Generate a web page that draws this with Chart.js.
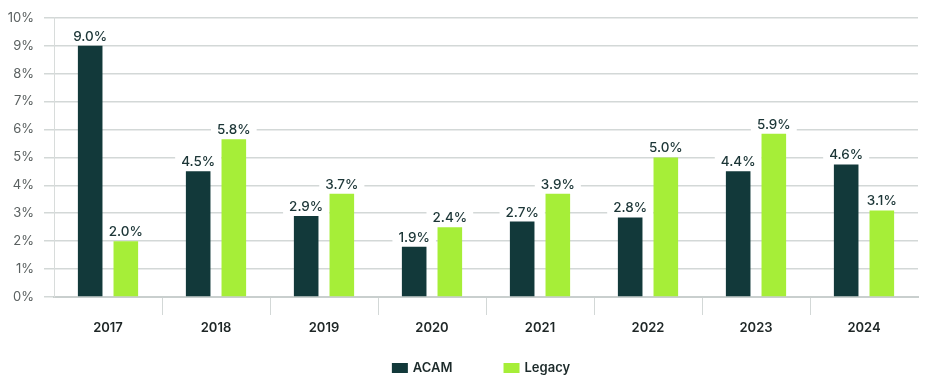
<!DOCTYPE html>
<html>
<head>
    <title>ACAM vs Legacy</title>
    <meta charset="UTF-8">
    <script src="https://cdn.jsdelivr.net/npm/chart.js@4.4.1/dist/chart.umd.min.js"></script>
    <style>
        body { margin: 0; background: #fff; }
        #wrap { width: 945px; height: 385px; }
    </style>
</head>
<body>
<div id="wrap"><canvas id="myChart"></canvas></div>
<script>
    let years = ['2017', '2018', '2019', '2020', '2021', '2022', '2023', '2024'];
    // bar heights as drawn in the picture
    let acamValues = [9.0, 4.5, 2.9, 1.8, 2.7, 2.85, 4.5, 4.75];
    let legacyValues = [2.0, 5.65, 3.7, 2.5, 3.7, 5.0, 5.85, 3.1];
    // printed labels
    let acamLabels = ['9.0%', '4.5%', '2.9%', '1.9%', '2.7%', '2.8%', '4.4%', '4.6%'];
    let legacyLabels = ['2.0%', '5.8%', '3.7%', '2.4%', '3.9%', '5.0%', '5.9%', '3.1%'];
    let yTicks = [0, 1, 2, 3, 4, 5, 6, 7, 8, 9, 10];

    const FONT = 'Inter, "Liberation Sans", sans-serif';
    const gridColor = '#d3d8d7';
    const labelFont = '500 13.5px ' + FONT;

    function eachLabel(chart, fn) {
        const texts = [acamLabels, legacyLabels];
        chart.data.datasets.forEach(function (ds, di) {
            chart.getDatasetMeta(di).data.forEach(function (bar, i) {
                fn(bar, texts[di][i]);
            });
        });
    }

    // white boxes go under the bars (hide gridlines), text goes on top
    const valueLabels = {
        id: 'valueLabels',
        beforeDatasetsDraw(chart) {
            const ctx = chart.ctx;
            ctx.save();
            ctx.font = labelFont;
            ctx.fillStyle = '#fff';
            eachLabel(chart, function (bar, t) {
                const w = ctx.measureText(t).width + 12;
                ctx.fillRect(bar.x - w / 2, bar.y - 19, w, 17);
            });
            ctx.restore();
        },
        afterDatasetsDraw(chart) {
            const ctx = chart.ctx;
            ctx.save();
            ctx.font = labelFont;
            ctx.textAlign = 'center';
            ctx.textBaseline = 'alphabetic';
            ctx.fillStyle = '#1c3637';
            eachLabel(chart, function (bar, t) {
                ctx.fillText(t, bar.x, bar.y - 5);
            });
            ctx.restore();
        }
    };

    // legend drawn at the bottom, wide spacing like the original
    const bottomLegend = {
        id: 'bottomLegend',
        afterDraw(chart) {
            const ctx = chart.ctx;
            const y = 368;
            const gap = 51;
            ctx.save();
            ctx.font = '600 13px ' + FONT;
            const items = chart.data.datasets.map(function (ds) {
                return { label: ds.label, color: ds.backgroundColor, w: 16 + 5 + ctx.measureText(ds.label).width };
            });
            let total = items.reduce(function (a, it) { return a + it.w; }, 0) + gap * (items.length - 1);
            let x = 481 - total / 2;
            items.forEach(function (it) {
                ctx.fillStyle = it.color;
                ctx.fillRect(x, y - 5, 16, 10);
                ctx.fillStyle = '#1c2a2a';
                ctx.textBaseline = 'middle';
                ctx.textAlign = 'left';
                ctx.fillText(it.label, x + 21, y);
                x += it.w + gap;
            });
            ctx.restore();
        }
    };

    const ctx = document.getElementById('myChart').getContext('2d');
    const myChart = new Chart(ctx, {
        type: 'bar',
        data: {
            labels: years,
            datasets: [{
                label: 'ACAM',
                data: acamValues,
                backgroundColor: '#12393a',
                categoryPercentage: 0.66,
                barPercentage: 0.69
            }, {
                label: 'Legacy',
                data: legacyValues,
                backgroundColor: '#a6ee38',
                categoryPercentage: 0.66,
                barPercentage: 0.69
            }]
        },
        options: {
            responsive: true,
            maintainAspectRatio: false,
            animation: false,
            layout: { padding: { top: 17, right: 27, left: 0, bottom: 0 } },
            plugins: {
                legend: { display: false },
                tooltip: { enabled: false }
            },
            scales: {
                x: {
                    afterFit: function (s) { s.height = 88; },
                    grid: {
                        drawOnChartArea: false,
                        offset: true,
                        tickLength: 18,
                        lineWidth: 1,
                        color: function (c) {
                            return (c.type !== 'tick' || c.index === 0) ? 'rgba(0,0,0,0)' : gridColor;
                        }
                    },
                    border: { display: true, color: '#c9cfce', width: 2 },
                    ticks: {
                        padding: 5,
                        color: '#1e2626',
                        font: { family: FONT, size: 13, weight: '600' }
                    }
                },
                y: {
                    min: 0,
                    max: 10,
                    afterFit: function (s) { s.width = 54; },
                    afterBuildTicks: function (s) { s.ticks = yTicks.map(function (v) { return { value: v }; }); },
                    grid: {
                        color: gridColor,
                        lineWidth: 1.5,
                        tickLength: 10
                    },
                    border: { display: true, color: '#d8dcdb', width: 1 },
                    ticks: {
                        padding: 10,
                        color: '#5a6060',
                        font: { family: FONT, size: 13 },
                        callback: function (v) { return v + '%'; }
                    }
                }
            }
        },
        plugins: [valueLabels, bottomLegend]
    });
</script>
</body>
</html>
